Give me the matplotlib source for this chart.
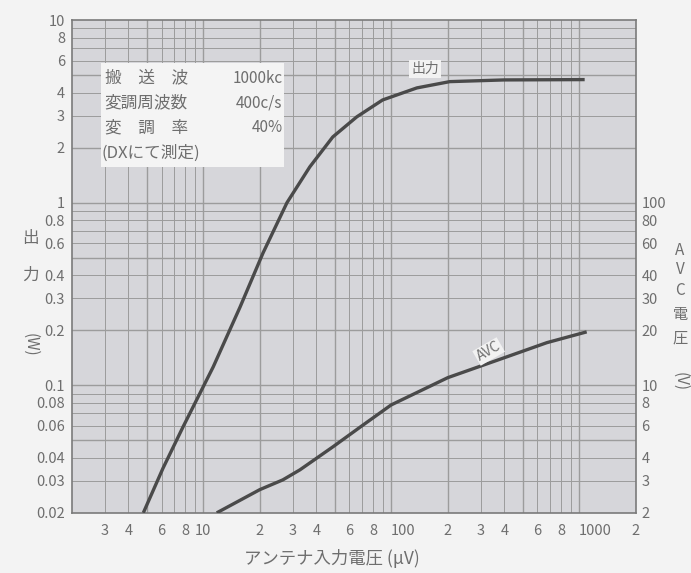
import numpy as np
import matplotlib.pyplot as plt
from matplotlib.patches import Rectangle

plt.rcParams['font.family'] = ['Noto Sans CJK JP', 'DejaVu Sans']

# output curve (left axis, W) vs antenna input voltage (uV)
out_x = [4.8, 6.1, 7.8, 11.3, 15.7, 20.8, 27.9, 36.9, 48.9, 65.6, 90, 137, 205, 400, 1070]
out_y = [0.02, 0.035, 0.059, 0.126, 0.268, 0.53, 1.0, 1.57, 2.29, 2.95, 3.65, 4.25, 4.6, 4.7, 4.72]

# AVC voltage (right axis, V)
avc_x = [11.8, 20, 26.5, 32.7, 49, 70, 100, 200, 412, 673, 1097]
avc_y = [2.0, 2.68, 3.03, 3.44, 4.6, 6.0, 7.8, 11.0, 14.3, 17.1, 19.6]

x_ticks = [3, 4, 6, 8, 10, 20, 30, 40, 60, 80, 100, 200, 300, 400, 600, 800, 1000, 2000]
x_labels = ['3', '4', '6', '8', '10', '2', '3', '4', '6', '8', '100',
            '2', '3', '4', '6', '8', '1000', '2']
yl_ticks = [0.02, 0.03, 0.04, 0.06, 0.08, 0.1, 0.2, 0.3, 0.4, 0.6, 0.8, 1, 2, 3, 4, 6, 8, 10]
yl_labels = ['0.02', '0.03', '0.04', '0.06', '0.08', '0.1', '0.2', '0.3', '0.4',
             '0.6', '0.8', '1', '2', '3', '4', '6', '8', '10']
yr_ticks = [2, 3, 4, 6, 8, 10, 20, 30, 40, 60, 80, 100]
yr_labels = ['2', '3', '4', '6', '8', '10', '20', '30', '40', '60', '80', '100']

info_keys = ['搬　送　波', '変調周波数', '変　調　率']
info_vals = ['1000kc', '400c/s', '40%']
info_note = '(DXにて測定)'

txt = '#6e6e6e'
line_col = '#4a4a4a'
grid_col = '#9c9c9c'

fig = plt.figure(figsize=(6.91, 5.73), dpi=100, facecolor='#f3f3f3')
ax = fig.add_axes([0.104, 0.105, 0.816, 0.86])
ax.set_facecolor('#d6d6da')
ax.set_xscale('log')
ax.set_yscale('log')
ax.set_xlim(2, 2000)
ax.set_ylim(0.02, 10)

# log paper grid
for dec in [1, 10, 100, 1000]:
    for m in range(1, 10):
        v = m * dec
        if 2 < v < 2000:
            ax.axvline(v, color=grid_col, lw=1.0 if m in (1, 2, 5) else 0.7, zorder=1)
for dec in [0.01, 0.1, 1]:
    for m in range(1, 10):
        v = m * dec
        if 0.02 < v < 10:
            ax.axhline(v, color=grid_col, lw=1.0 if m in (1, 2, 5) else 0.7, zorder=1)

ax.plot(out_x, out_y, color=line_col, lw=2.4, zorder=3, solid_capstyle='butt')

ax.set_xticks(x_ticks)
ax.set_xticklabels(x_labels)
ax.set_xticks([], minor=True)
ax.set_yticks(yl_ticks)
ax.set_yticklabels(yl_labels)
ax.set_yticks([], minor=True)
ax.tick_params(length=0, colors=txt, labelsize=10.5, pad=5)
ax.tick_params(axis='x', pad=8)
# the 1000 label sits just right of its line, as on the original paper
for lab in ax.get_xticklabels():
    if lab.get_text() == '1000':
        lab.set_horizontalalignment('left')
        lab.set_x(lab.get_position()[0])
    elif lab.get_text() == '100':
        lab.set_horizontalalignment('left')
for s in ax.spines.values():
    s.set_color('#7a7a7a')
    s.set_linewidth(1.2)

ax2 = ax.twinx()
ax2.set_yscale('log')
ax2.set_ylim(2, 1000)
ax2.plot(avc_x, avc_y, color=line_col, lw=2.4, zorder=3, solid_capstyle='butt')
ax2.set_yticks(yr_ticks)
ax2.set_yticklabels(yr_labels)
ax2.set_yticks([], minor=True)
ax2.tick_params(length=0, colors=txt, labelsize=10.5, pad=4)
for s in ax2.spines.values():
    s.set_visible(False)

# curve labels
ax.text(152, 5.4, '出力', fontsize=10, color=txt, ha='center', va='center', zorder=4,
        bbox=dict(boxstyle='square,pad=0.15', fc='#f2f2f2', ec='none'))
ax2.text(330, 15.3, 'AVC', fontsize=10, color=txt, ha='center', va='center', rotation=30,
         zorder=4, bbox=dict(boxstyle='square,pad=0.1', fc='#f2f2f2', ec='none'))

# info box
ax.add_patch(Rectangle((0.052, 0.702), 0.325, 0.211, transform=ax.transAxes,
                       fc='#f4f4f4', ec='none', zorder=2))
for i, (k, v) in enumerate(zip(info_keys, info_vals)):
    yy = 0.882 - i * 0.05
    ax.text(0.058, yy, k, transform=ax.transAxes, fontsize=12, color=txt,
            ha='left', va='center', zorder=4)
    ax.text(0.374, yy, v, transform=ax.transAxes, fontsize=11, color=txt,
            ha='right', va='center', zorder=4)
ax.text(0.052, 0.73, info_note, transform=ax.transAxes, fontsize=12,
        color=txt, ha='left', va='center', zorder=4)

# axis titles
fig.text(332 / 691, 1 - 559 / 573, 'アンテナ入力電圧 (μV)', fontsize=12.5, color=txt,
         ha='center', va='center')
for ch, py in zip(['出', '力'], [238, 275]):
    fig.text(30 / 691, 1 - py / 573, ch, fontsize=12, color=txt, ha='center', va='center')
fig.text(30 / 691, 1 - 345 / 573, '(W)', fontsize=11, color=txt, ha='center',
         va='center', rotation=270)
for ch, py in zip(['A', 'V', 'C', '電', '圧'], [250, 269, 290, 314, 338]):
    fig.text(680 / 691, 1 - py / 573, ch, fontsize=11, color=txt, ha='center', va='center')
fig.text(680 / 691, 1 - 382 / 573, '(V)', fontsize=11, color=txt, ha='center',
         va='center', rotation=270)

fig.savefig('out.png', dpi=100, facecolor=fig.get_facecolor())
